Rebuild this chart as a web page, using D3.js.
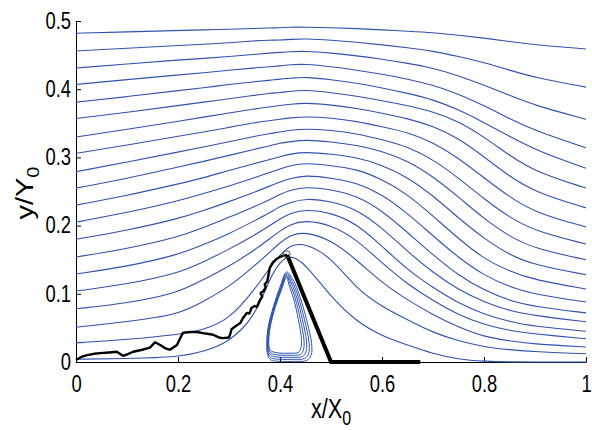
<!DOCTYPE html>
<html>
<head>
<meta charset="utf-8">
<script src="https://cdn.jsdelivr.net/npm/d3@7"></script>
<style>
  html, body { margin: 0; padding: 0; background: #fff; }
  svg { display: block; }
  text { font-family: "Liberation Sans", Arial, sans-serif; fill: #000; }
</style>
</head>
<body>
<svg id="chart" width="592" height="430"></svg>
<script>
// x positions (x/X0) where each streamline was read
const xGrid = [0, 0.1, 0.2, 0.25, 0.3, 0.35, 0.38, 0.4, 0.42, 0.45, 0.5, 0.55, 0.6, 0.65, 0.7, 0.75, 0.8, 0.85, 0.9, 1];

// y/Y0 of each streamline at xGrid, bottom to top
const streamY = [
  [.004, .005, .007, .015, .029, .065, .123, .147, .158, .144, .095, .059, .038, .025, .012, .004, .001, 0, 0, 0],
  [.028, .033, .040, .047, .062, .106, .138, .157, .172, .174, .154, .107, .081, .062, .043, .031, .022, .018, .015, .012],
  [.051, .059, .069, .089, .110, .141, .161, .175, .186, .191, .179, .150, .116, .091, .069, .051, .037, .031, .026, .022],
  [.078, .086, .101, .121, .140, .164, .181, .192, .202, .208, .201, .180, .145, .114, .090, .069, .055, .046, .041, .034],
  [.104, .114, .130, .147, .165, .186, .200, .210, .218, .224, .219, .203, .170, .135, .109, .086, .070, .059, .052, .045],
  [.129, .140, .157, .172, .188, .207, .219, .228, .234, .240, .236, .224, .197, .162, .131, .106, .088, .075, .068, .059],
  [.154, .166, .183, .197, .212, .228, .238, .246, .252, .257, .253, .244, .222, .190, .157, .127, .105, .090, .081, .072],
  [.180, .193, .210, .222, .235, .249, .258, .264, .269, .274, .270, .263, .246, .218, .185, .153, .127, .110, .099, .088],
  [.205, .219, .236, .247, .258, .270, .278, .283, .288, .292, .288, .283, .268, .246, .214, .181, .151, .133, .120, .107],
  [.230, .244, .261, .270, .281, .291, .297, .301, .305, .308, .305, .300, .289, .271, .244, .211, .181, .157, .142, .128],
  [.255, .269, .286, .294, .303, .312, .317, .321, .323, .326, .323, .318, .309, .295, .272, .242, .210, .184, .166, .150],
  [.279, .293, .308, .315, .323, .331, .335, .337, .340, .342, .340, .335, .326, .316, .297, .270, .239, .212, .192, .173],
  [.306, .318, .331, .337, .344, .351, .354, .356, .358, .360, .358, .353, .345, .337, .322, .299, .270, .242, .219, .198],
  [.330, .341, .353, .359, .365, .371, .374, .376, .378, .380, .377, .372, .365, .357, .346, .328, .301, .272, .249, .226],
  [.357, .366, .376, .381, .386, .391, .394, .395, .397, .399, .395, .390, .383, .376, .367, .353, .330, .303, .279, .255],
  [.381, .389, .398, .402, .407, .411, .413, .415, .416, .418, .414, .409, .402, .394, .385, .370, .351, .331, .311, .284],
  [.407, .414, .421, .424, .428, .431, .433, .434, .436, .437, .433, .428, .422, .415, .406, .393, .376, .357, .339, .314],
  [.431, .437, .443, .445, .448, .451, .453, .454, .455, .456, .453, .449, .444, .438, .431, .420, .406, .391, .376, .356],
  [.456, .460, .464, .466, .468, .471, .472, .472, .473, .474, .472, .469, .465, .461, .456, .448, .439, .428, .417, .403],
  [.482, .484, .486, .487, .488, .489, .490, .490, .491, .491, .490, .489, .487, .485, .483, .479, .475, .470, .465, .459]
];

// recirculation bubble, nested closed loops [x, y]
const bubbleLoops = [
  [[.413,.132],[.400,.110],[.387,.081],[.377,.052],[.374,.027],[.376,.010],[.382,.003],[.40,.001],[.43,.001],[.452,.002],[.461,.010],[.462,.027],[.452,.062],[.439,.096],[.426,.120]],
  [[.413,.130],[.401,.109],[.388,.081],[.378,.052],[.375,.028],[.377,.012],[.383,.006],[.40,.004],[.428,.004],[.448,.005],[.456,.012],[.457,.028],[.448,.062],[.436,.095],[.424,.118]],
  [[.413,.128],[.402,.108],[.389,.081],[.379,.052],[.376,.029],[.378,.014],[.384,.009],[.40,.007],[.426,.007],[.444,.008],[.451,.015],[.452,.030],[.444,.062],[.433,.094],[.422,.116]],
  [[.413,.126],[.402,.107],[.390,.081],[.380,.052],[.377,.030],[.379,.016],[.385,.012],[.40,.010],[.424,.010],[.440,.011],[.446,.018],[.447,.032],[.440,.062],[.430,.093],[.420,.114]],
  [[.413,.124],[.403,.106],[.391,.081],[.381,.052],[.378,.031],[.380,.018],[.386,.015],[.40,.013],[.422,.013],[.436,.014],[.441,.021],[.442,.034],[.436,.062],[.427,.092],[.418,.112]]
];

// wavy black filament from the origin to the tip
const filament = [[0,.003],[.012,.008],[.022,.010],[.035,.012],[.047,.013],[.065,.014],[.080,.015],[.092,.009],[.100,.011],[.112,.015],[.13,.018],[.145,.021],[.155,.029],[.165,.025],[.175,.020],[.184,.018],[.198,.025],[.205,.036],[.210,.043],[.225,.044],[.237,.044],[.252,.042],[.269,.040],[.280,.036],[.288,.035],[.300,.036],[.302,.040],[.305,.048],[.312,.052],[.322,.057],[.328,.065],[.335,.072],[.340,.071],[.344,.079],[.350,.082],[.355,.081],[.360,.090],[.365,.096],[.362,.101],[.368,.104],[.372,.110],[.370,.114],[.375,.118],[.377,.126],[.380,.138],[.386,.146],[.393,.151],[.400,.154],[.407,.156],[.414,.157]];

// straight plate: tip -> wall -> along the wall
const plate = [[.414,.157],[.5,0],[.675,0]];
const tip = [.413, .158];

const xTicks = [0, 0.2, 0.4, 0.6, 0.8, 1];
const xTickLabels = ["0", "0.2", "0.4", "0.6", "0.8", "1"];
const yTicks = [0, 0.1, 0.2, 0.3, 0.4, 0.5];
const yTickLabels = ["0", "0.1", "0.2", "0.3", "0.4", "0.5"];

const svg = d3.select("#chart");
const x = d3.scaleLinear().domain([0, 1]).range([76, 586]);
const y = d3.scaleLinear().domain([0, 0.5]).range([362, 21]);

// axes (ticks point inward, no box)
const gx = svg.append("g")
  .attr("transform", "translate(0,362)")
  .call(d3.axisBottom(x).tickValues(xTicks).tickFormat((d, i) => xTickLabels[i])
    .tickSize(-5).tickSizeOuter(0).tickPadding(14));
gx.selectAll("text")
  .attr("font-size", 23)
  .attr("transform", "scale(0.8,1)");

const gy = svg.append("g")
  .attr("transform", "translate(76,0)")
  .call(d3.axisLeft(y).tickValues(yTicks).tickFormat((d, i) => yTickLabels[i])
    .tickSize(-5).tickSizeOuter(0));
gy.selectAll("text")
  .attr("x", 0)
  .attr("font-size", 23)
  .attr("transform", "translate(-5,0) scale(0.8,1)");

// axis titles
const xt = svg.append("text")
  .attr("transform", "translate(331,418) scale(0.8,1)")
  .attr("text-anchor", "middle")
  .attr("font-size", 27);
xt.append("tspan").text("x/X");
xt.append("tspan").attr("font-size", 20).attr("dy", 7).text("0");

const yt = svg.append("text")
  .attr("transform", "translate(33,193) scale(0.8,1) rotate(-90)")
  .attr("text-anchor", "middle")
  .attr("font-size", 29);
yt.append("tspan").text("y/Y");
yt.append("tspan").attr("font-size", 20).attr("dy", 8).text("0");

// streamlines
const blue = "#2f52ae";
const streamLine = d3.line()
  .x(d => x(d[0]))
  .y(d => y(d[1]))
  .curve(d3.curveBasis);

streamY.forEach(ys => {
  svg.append("path")
    .datum(ys.map((v, i) => [xGrid[i], v]))
    .attr("d", streamLine)
    .attr("fill", "none")
    .attr("stroke", blue)
    .attr("stroke-width", 1.1);
});

const loopLine = d3.line()
  .x(d => x(d[0]))
  .y(d => y(d[1]))
  .curve(d3.curveCatmullRomClosed.alpha(0.5));

bubbleLoops.forEach(pts => {
  svg.append("path")
    .attr("d", loopLine(pts))
    .attr("fill", "none")
    .attr("stroke", blue)
    .attr("stroke-width", 1);
});

// filament and plate
const straight = d3.line().x(d => x(d[0])).y(d => y(d[1]));

svg.append("path")
  .attr("d", straight(filament))
  .attr("fill", "none")
  .attr("stroke", "#000")
  .attr("stroke-width", 2.4)
  .attr("stroke-linejoin", "round");

svg.append("path")
  .attr("d", straight(plate))
  .attr("fill", "none")
  .attr("stroke", "#000")
  .attr("stroke-width", 4);

svg.append("circle")
  .attr("cx", x(tip[0]))
  .attr("cy", y(tip[1]))
  .attr("r", 3.5)
  .attr("fill", "none")
  .attr("stroke", "#555")
  .attr("stroke-width", 1);
</script>
</body>
</html>
